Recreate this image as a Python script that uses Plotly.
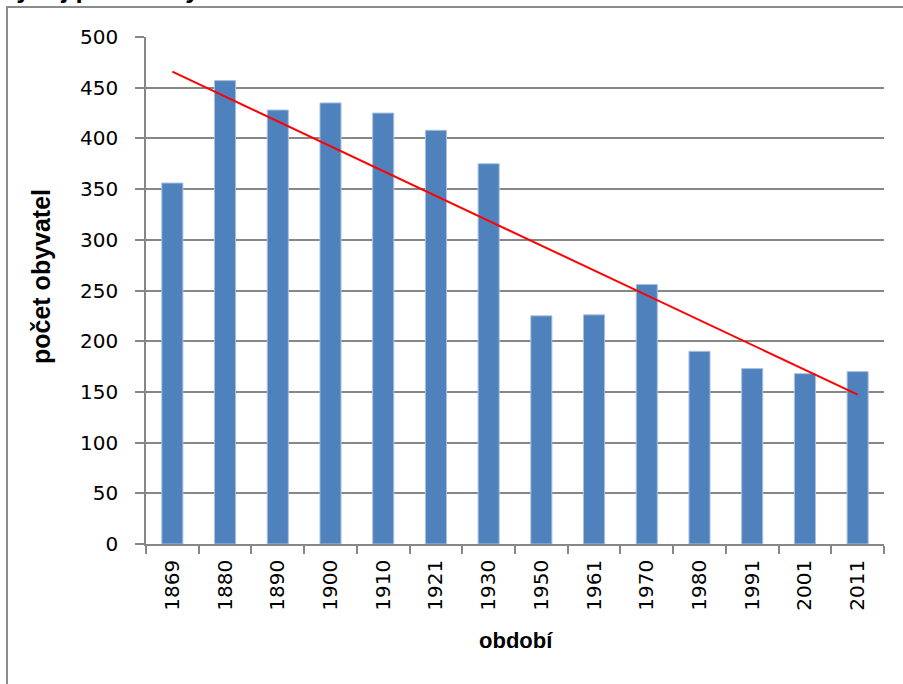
import numpy as np
import plotly.graph_objects as go

years = ["1869", "1880", "1890", "1900", "1910", "1921", "1930",
         "1950", "1961", "1970", "1980", "1991", "2001", "2011"]
population = [356, 457, 428, 435, 425, 408, 375, 225, 226, 256, 190, 173, 168, 170]

y_ticks = list(range(0, 501, 50))
title_text = "Vývoj počtu obyvatel"
y_title = "počet obyvatel"
x_title = "období"

# linear trend (least squares over category index)
idx = np.arange(len(population))
slope, intercept = np.polyfit(idx, population, 1)
trend = slope * idx + intercept

W, H = 903, 684
L, R, T, B = 146, 19, 37, 140
pw, ph = W - L - R, H - T - B

def px_x(p):
    return (p - L) / pw

def px_y(p):
    return (H - B - p) / ph

fig = go.Figure()
fig.add_trace(go.Bar(
    x=years, y=population,
    marker=dict(color="#4F81BD", line=dict(color="#A9C1E0", width=1)),
    width=0.4, showlegend=False, hoverinfo="x+y"))
fig.add_trace(go.Scatter(
    x=years, y=trend, mode="lines",
    line=dict(color="#FF0000", width=2), showlegend=False))

grey = "#878787"
fig.update_layout(
    width=W, height=H,
    margin=dict(l=L, r=R, t=T, b=B),
    paper_bgcolor="white", plot_bgcolor="white",
    font=dict(family="DejaVu Sans", size=20, color="black"),
    bargap=0.6,
    xaxis=dict(type="category", tickangle=-90, ticks="outside", tickson="boundaries",
               ticklen=8, tickwidth=1.5, tickcolor=grey, showline=True, linecolor=grey,
               linewidth=1.5, showgrid=False, tickfont=dict(size=20, family="DejaVu Sans"),
               ticklabelstandoff=6, fixedrange=True),
    yaxis=dict(range=[0, 500], tickvals=y_ticks, ticks="outside", ticklen=9,
               tickwidth=1.5, tickcolor=grey, showline=True, linecolor=grey, linewidth=1.5,
               showgrid=True, gridcolor=grey, gridwidth=1.5, zeroline=False,
               tickfont=dict(size=20, family="DejaVu Sans"), ticklabelstandoff=13,
               fixedrange=True),
    shapes=[dict(type="rect", xref="paper", yref="paper",
                 x0=px_x(7), x1=px_x(W + 20), y0=px_y(H + 20), y1=px_y(7),
                 line=dict(color="#8C8C8C", width=2), fillcolor="rgba(0,0,0,0)", layer="below")],
    annotations=[
        dict(text=y_title, xref="paper", yref="paper", x=px_x(41), y=px_y(277),
             textangle=-90, showarrow=False, xanchor="center", yanchor="middle",
             font=dict(family="Liberation Sans", size=25, color="black", weight="bold")),
        dict(text=x_title, xref="paper", yref="paper", x=px_x(516), y=px_y(640),
             showarrow=False, xanchor="center", yanchor="middle",
             font=dict(family="Liberation Sans", size=22, color="black", weight="bold")),
        dict(text=title_text, xref="paper", yref="paper", x=px_x(-3), y=px_y(-11),
             showarrow=False, xanchor="left", yanchor="middle",
             font=dict(family="Liberation Sans", size=26, color="black", weight="bold")),
    ],
)

fig.write_html("out.html", config={"displayModeBar": False},
               post_script="document.body.style.margin='0';document.body.style.overflow='hidden';")
